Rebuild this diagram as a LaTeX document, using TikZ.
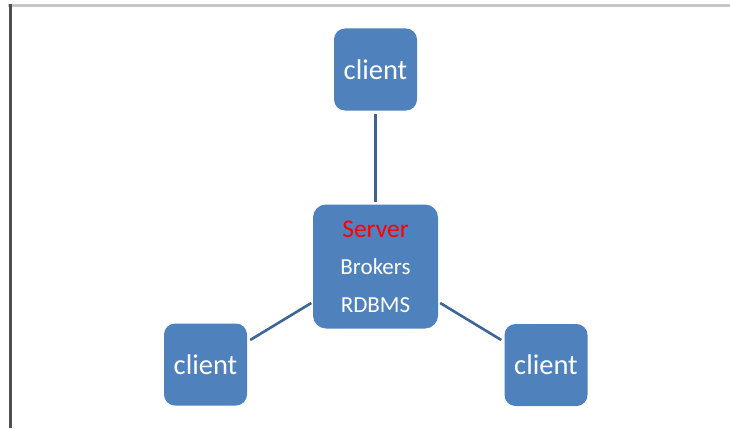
\documentclass[tikz,border=0pt]{standalone}
\usepackage{fontspec}
\setmainfont{Carlito}
\definecolor{boxblue}{HTML}{4F81BD}
\definecolor{linkblue}{HTML}{3D6596}
\definecolor{servred}{HTML}{FF0000}
\definecolor{frametop}{HTML}{C8C8C8}
\definecolor{frameleft}{HTML}{505050}
\tikzset{
  clientbox/.style={fill=boxblue, draw=none, rounded corners=11pt, minimum width=83pt, minimum height=82pt, text=white, font=\fontsize{28.5}{32}\selectfont, inner sep=0pt},
  serverbox/.style={fill=boxblue, draw=none, rounded corners=13pt, minimum width=125pt, minimum height=124pt, text=white, font=\fontsize{23}{37.5}\selectfont, align=center, inner sep=0pt},
  link/.style={draw=linkblue, line width=2.6pt},
}
\begin{document}
\begin{tikzpicture}[x=1pt,y=-1pt]
\useasboundingbox (0,0) rectangle (730,428);
\fill[white] (0,0) rectangle (730,428);
\draw[frametop, line width=2.5pt] (8,5.3) -- (730,5.3);
\draw[frameleft, line width=3pt] (10.2,4) -- (10.2,428);
\node[clientbox] (top) at (375.5,69.5) {client};
\node[serverbox] (srv) at (375.5,266.5) {{\fontsize{25.5}{37.5}\selectfont\textcolor{servred}{Server}}\\Brokers\\RDBMS};
\node[clientbox] (bl) at (205.5,364.5) {client};
\node[clientbox] (br) at (546,365) {client};
\draw[link] ([yshift=-3.5pt]top.south) -- ([yshift=2.5pt]srv.north);
\draw[link] ([xshift=3pt,yshift=24.5pt]bl.east) -- ([xshift=-1.5pt,yshift=-36.5pt]srv.west);
\draw[link] ([xshift=2pt,yshift=-36.5pt]srv.east) -- ([xshift=-3pt,yshift=25pt]br.west);
\end{tikzpicture}
\end{document}
